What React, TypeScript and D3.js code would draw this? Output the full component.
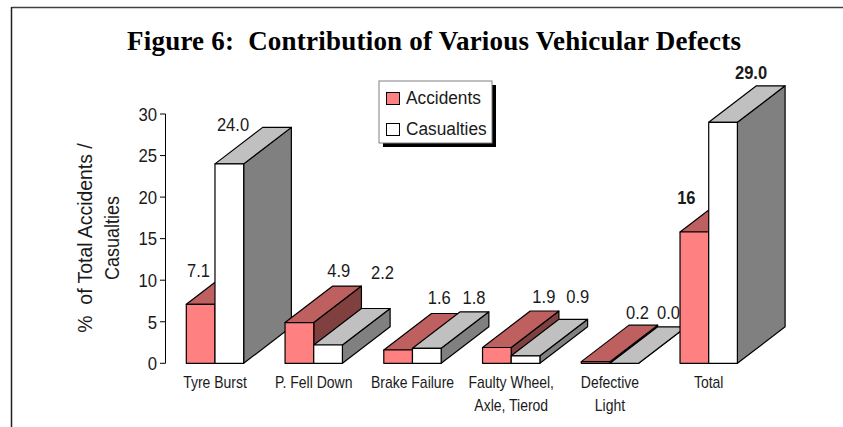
import * as d3 from 'd3'

const WIDTH = 843
const HEIGHT = 427
const SANS = '"Liberation Sans", sans-serif'

const categories = ['Tyre Burst', 'P. Fell Down', 'Brake Failure', 'Faulty Wheel,|Axle, Tierod', 'Defective|Light', 'Total']
const series = ['Accidents', 'Casualties']
const accidents = [7.1, 4.9, 1.6, 1.9, 0.2, 15.8]
const casualties = [24.0, 2.2, 1.8, 0.9, 0.0, 29.0]
const accidentLabels = ['7.1', '4.9', '1.6', '1.9', '0.2', '16']
const casualtyLabels = ['24.0', '2.2', '1.8', '0.9', '0.0', '29.0']

// labels were hand placed in the original, so each one has its own nudge from the bar's top left corner
const accidentNudge = [[12.2, -27.4], [53.7, -45.9], [55.5, -46], [61.3, -44.5], [56.3, -42.3], [6.3, -28.2]]
const casualtyNudge = [[18, -32.6], [68.7, -66], [61.5, -44.4], [66.6, -52.8], [58.6, -44], [42.3, -43.3]]

const DEPTH = {x: 47.7, y: -36.5}
const COLORS = [
  {front: '#ff8080', top: '#bf6060', side: '#804040'},
  {front: '#ffffff', top: '#c0c0c0', side: '#808080'},
]

const x0 = d3.scaleBand().domain(categories).range([186.3, 737.4]).paddingInner(0.419)
const x1 = d3.scaleBand().domain(series).range([0, x0.bandwidth()])
const y = d3.scaleLinear().domain([0, 30]).range([363.3, 114])

const path = d3.line()

type BarProps = {
  x: number
  value: number
  s: number
}

const Bar = ({x, value, s}: BarProps) => {
  const w = x1.bandwidth()
  const yTop = y(value)
  const yBase = y(0)
  const c = COLORS[s]
  const shape = (pts: [number, number][]) => path(pts) + 'Z'
  return (
    <g stroke="#000" strokeWidth={1.2} strokeLinejoin="round">
      <path
        d={shape([[x + w, yBase], [x + w + DEPTH.x, yBase + DEPTH.y], [x + w + DEPTH.x, yTop + DEPTH.y], [x + w, yTop]])}
        fill={c.side}
      />
      <path
        d={shape([[x, yTop], [x + DEPTH.x, yTop + DEPTH.y], [x + w + DEPTH.x, yTop + DEPTH.y], [x + w, yTop]])}
        fill={c.top}
      />
      <rect x={x} y={yTop} width={w} height={yBase - yTop} fill={c.front} />
    </g>
  )
}

// no narrow font is installed, so squeeze the sans one sideways
type NarrowProps = {
  x: number
  y: number
  size: number
  squeeze: number
  anchor?: string
  weight?: number
  rotate?: number
  children: string
}

const Narrow = ({x, y, size, squeeze, anchor = 'middle', weight = 400, rotate = 0, children}: NarrowProps) => (
  <text
    transform={`translate(${x},${y}) rotate(${rotate}) scale(${squeeze},1)`}
    textAnchor={anchor}
    fontFamily={SANS}
    fontSize={size}
    fontWeight={weight}
    fill="#1a1a1a"
    style={{whiteSpace: 'pre'}}>
    {children}
  </text>
)

export default function App() {
  const bars = categories.map((cat, i) => {
    const gx = x0(cat) as number
    return (
      <g key={cat}>
        <Bar x={gx + (x1('Accidents') as number)} value={accidents[i]} s={0} />
        <Bar x={gx + (x1('Casualties') as number)} value={casualties[i]} s={1} />
      </g>
    )
  })

  const valueLabels = categories.map((cat, i) => {
    const gx = x0(cat) as number
    const weight = cat === 'Total' ? 700 : 400
    return (
      <g key={cat}>
        <Narrow
          x={gx + (x1('Accidents') as number) + accidentNudge[i][0]}
          y={y(accidents[i]) + accidentNudge[i][1]}
          size={19}
          squeeze={0.87}
          weight={weight}>
          {accidentLabels[i]}
        </Narrow>
        <Narrow
          x={gx + (x1('Casualties') as number) + casualtyNudge[i][0]}
          y={y(casualties[i]) + casualtyNudge[i][1]}
          size={19}
          squeeze={0.87}
          weight={weight}>
          {casualtyLabels[i]}
        </Narrow>
      </g>
    )
  })

  const yTicks = y.ticks(6).map(t => (
    <g key={t}>
      <line x1={160} x2={165.5} y1={y(t)} y2={y(t)} stroke="#000" />
      <Narrow x={157} y={y(t) + 6.8} size={19} squeeze={0.88} anchor="end">
        {String(t)}
      </Narrow>
    </g>
  ))

  const catLabels = categories.map(cat => {
    const cx = (x0(cat) as number) + x0.bandwidth() / 2
    return cat.split('|').map((line, j) => (
      <Narrow key={line} x={cx} y={387.7 + j * 23} size={16} squeeze={0.875}>
        {line}
      </Narrow>
    ))
  })

  return (
    <svg
      width={WIDTH}
      height={HEIGHT}
      style={{position: 'absolute', left: 0, top: 0, background: '#fff'}}>
      {/* page frame, only top and left show */}
      <line x1={11.5} x2={WIDTH} y1={7.5} y2={7.5} stroke="#404040" strokeWidth={1.5} />
      <line x1={11.5} x2={11.5} y1={7} y2={HEIGHT} stroke="#202020" strokeWidth={1.5} />

      <text
        x={434}
        y={50}
        textAnchor="middle"
        fontFamily='"Liberation Serif", serif'
        fontWeight={700}
        fontSize={27}
        textLength={614}
        lengthAdjust="spacing"
        fill="#000"
        style={{whiteSpace: 'pre'}}>
        Figure 6:  Contribution of Various Vehicular Defects
      </text>

      {yTicks}
      <line x1={165.5} x2={165.5} y1={y(30)} y2={y(0)} stroke="#000" />

      <Narrow x={91.5} y={238} size={20} squeeze={0.97} rotate={-90}>
        %  of Total Accidents /
      </Narrow>
      <Narrow x={119} y={238} size={20} squeeze={0.9} rotate={-90}>
        Casualties
      </Narrow>

      {bars}
      {valueLabels}
      {catLabels}

      {/* legend */}
      <rect x={383} y={85} width={113} height={62} fill="#000" />
      <rect x={379} y={81} width={113} height={62} fill="#fff" stroke="#808080" />
      {series.map((s, i) => (
        <g key={s}>
          <rect x={386.5} y={92.5 + i * 31} width={13} height={12} fill={COLORS[i].front} stroke="#000" />
          <Narrow x={406} y={103.8 + i * 31} size={19} squeeze={0.91} anchor="start">
            {s}
          </Narrow>
        </g>
      ))}
    </svg>
  )
}
